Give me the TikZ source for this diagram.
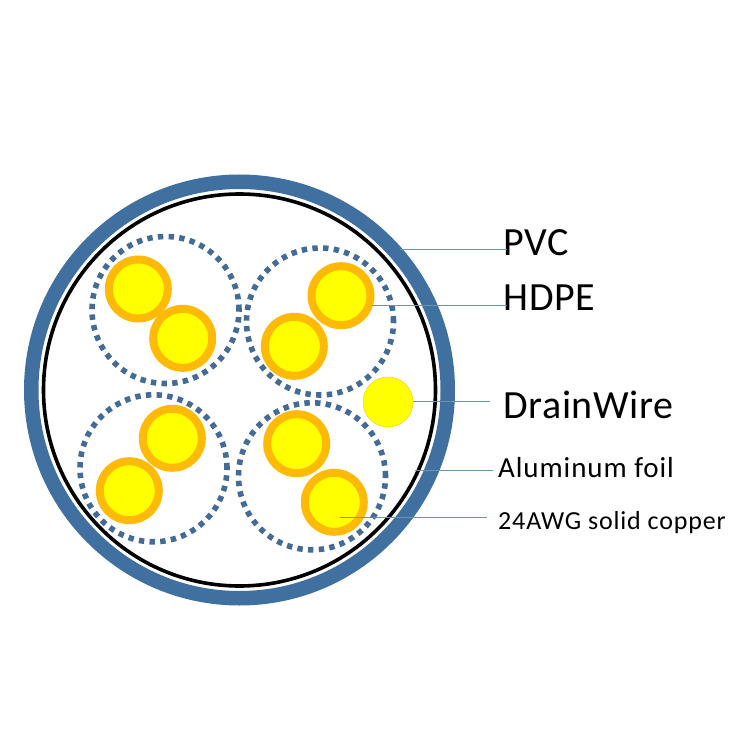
\documentclass[tikz,border=0pt]{standalone}
\usepackage{fontspec}
\setmainfont{Carlito}
\definecolor{jacket}{HTML}{3F709F}
\definecolor{screen}{HTML}{446B95}
\definecolor{leader}{HTML}{6C94AE}
\definecolor{insul}{HTML}{FFBA08}
\definecolor{copper}{HTML}{FFFF00}
\tikzset{
  x=1pt,y=-1pt,
  wire/.style={circle,draw=insul,line width=8pt,fill=copper,minimum size=59pt,inner sep=0pt},
  drain/.style={circle,draw=insul!70!copper,line width=.5pt,fill=copper,minimum size=50pt,inner sep=0pt},
  pairscreen/.style={circle,draw=screen,line width=5.6pt,dash pattern=on 5.4pt off 5.3pt,minimum size=147pt,inner sep=0pt},
  leaderline/.style={draw=leader,line width=.8pt},
  big/.style={anchor=west,inner sep=0pt,font=\fontsize{40}{42}\selectfont\addfontfeature{LetterSpace=1.4}},
  mid/.style={anchor=west,inner sep=0pt,font=\fontsize{29}{31}\selectfont\addfontfeature{LetterSpace=3.2}},
  small/.style={anchor=west,inner sep=0pt,font=\fontsize{26}{30}\selectfont\addfontfeature{LetterSpace=3.3}},
}
\begin{document}
\begin{tikzpicture}
\useasboundingbox (0,0) rectangle (750,749);
\fill[white] (0,0) rectangle (750,749);
\node[circle,draw=jacket,line width=14.5pt,minimum size=416.5pt,inner sep=0pt] (outer) at (239.5,390) {};
\node[circle,draw=black,line width=3.6pt,minimum size=392pt,inner sep=0pt] (foil) at (239.5,390) {};
\node[pairscreen] (g1) at (165.5,310) {};
\node[pairscreen] (g2) at (320,321.5) {};
\node[pairscreen] (g3) at (153.5,468.3) {};
\node[pairscreen] (g4) at (312,476.3) {};
\node[wire] (w1a) at (138.3,289) {};
\node[wire] (w1b) at (182.7,338.3) {};
\node[wire] (w2a) at (341,295.7) {};
\node[wire] (w2b) at (294.3,346.3) {};
\node[wire] (w3a) at (172.3,438.3) {};
\node[wire] (w3b) at (129.3,490.7) {};
\node[wire] (w4a) at (296.7,443.7) {};
\node[wire] (w4b) at (334.3,502.3) {};
\node[drain] (dw) at (388,402) {};
\node[big] (pvc) at (503.5,243) {PVC};
\node[big] (hdpe) at (503.5,298) {HDPE};
\node[big] (dwl) at (503.5,405) {DrainWire};
\node[mid] (alu) at (498,467.5) {Aluminum foil};
\node[small] (awg) at (498,522.5) {24AWG solid copper};
\coordinate (a1) at (400,249);
\coordinate (a2) at (372,305);
\coordinate (a3) at (413,401);
\coordinate (a4) at (415,470);
\coordinate (a5) at (340,517);
\draw[leaderline] (a1) -- (507,249);
\draw[leaderline] (a2) -- (507,305);
\draw[leaderline] (a3) -- (490,401);
\draw[leaderline] (a4) -- (493,470);
\draw[leaderline] (a5) -- (487,517);
\end{tikzpicture}
\end{document}
